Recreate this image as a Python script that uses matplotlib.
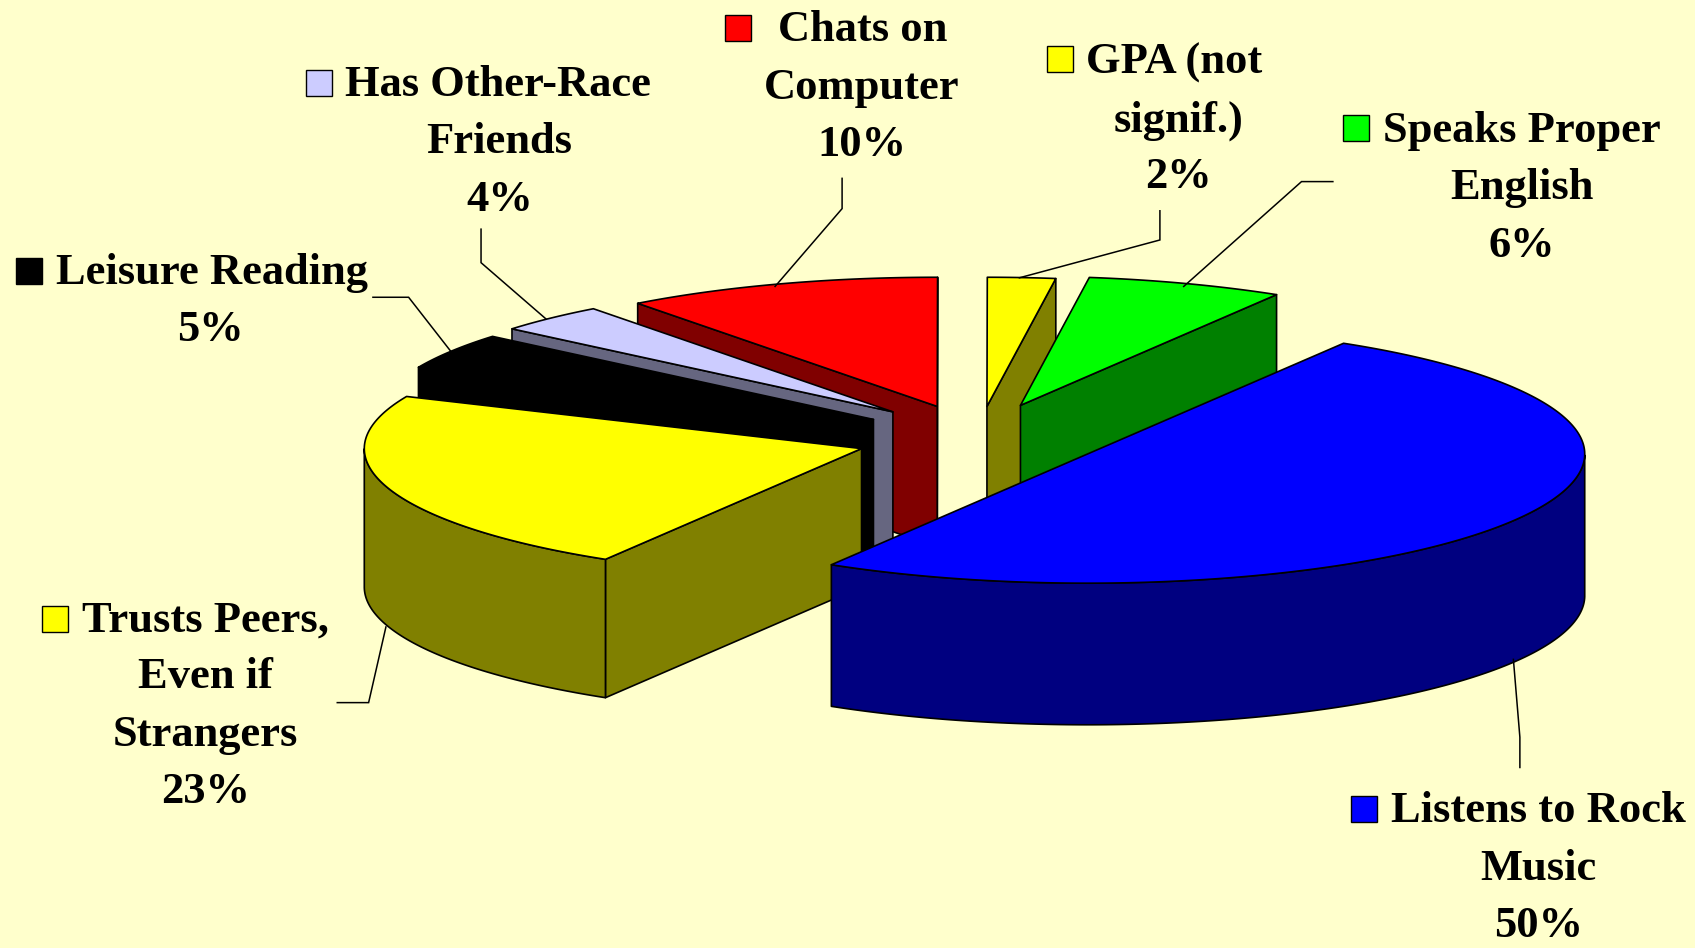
import numpy as np
import matplotlib
matplotlib.use("Agg")
import matplotlib.pyplot as plt
from matplotlib.patches import Polygon, Rectangle

# ---- data ----
categories = ["Listens to Rock Music", "Trusts Peers, Even if Strangers", "Leisure Reading",
              "Has Other-Race Friends", "Chats on Computer", "GPA (not signif.)", "Speaks Proper English"]
values = [50.0, 23.0, 4.5, 3.6, 10.3, 2.2, 6.4]
pct_labels = ["50%", "23%", "5%", "4%", "10%", "2%", "6%"]
top_colors = ["#0000FF", "#FFFF00", "#000000", "#CCCCFF", "#FF0000", "#FFFF00", "#00FF00"]
side_colors = ["#000080", "#808000", "#000000", "#666680", "#800000", "#808000", "#008000"]
explode_x = [0, -209, -198, -180, -139, -93, -62]
explode_y = [0, -5, -32, -39, -44, -44, -45]
depth = [131, 128, 130, 130, 130, 130, 130]
label_lines = [["Listens to Rock", "Music"], ["Trusts Peers,", "Even if", "Strangers"], ["Leisure Reading"],
               ["Has Other-Race", "Friends"], ["Chats on", "Computer"], ["GPA (not", "signif.)"],
               ["Speaks Proper", "English"]]

# ---- layout (in the 1568x877 frame) ----
BG = "#FFFFCC"
CX, CY, A, B = 1006, 420, 460, 119.5
START = 59.0
FS = 32.0
LINE = 53.0
label_first_left = [1287, 76, 52, 319.5, 720, 1005, 1279]
label_first_y = [746.5, 569.5, 248.5, 74.5, 24, 54, 117]
label_center = [1423, 190, 195, 462, 797, 1090, 1408]
key_left = [1250, 39, 15, 283, 671, 969, 1242]
key_y = [748, 573, 251, 77, 26, 55, 118]
leaders = [
    [(1406, 710), (1406, 682), (1400, 610)],
    [(312, 650), (341, 650), (357, 580)],
    [(345, 275), (378, 275), (417, 325)],
    [(445, 212), (445, 243), (505, 295)],
    [(779, 165), (779, 193), (717, 265)],
    [(1073, 195), (1073, 222), (943, 257)],
    [(1233, 168), (1204, 168), (1095, 265)],
]

fig = plt.figure(figsize=(16.95, 9.48), dpi=100, facecolor=BG)
ax = fig.add_axes([0, 0, 1, 1])
ax.set_xlim(0, 1568)
ax.set_ylim(877, 0)
ax.axis("off")
LW = 1.2


def rim(t_deg, ox, oy, dz=0):
    t = np.radians(t_deg)
    return np.column_stack([CX + ox + A * np.cos(t), CY + oy - B * np.sin(t) + dz])


def poly(pts, color, z):
    ax.add_patch(Polygon(pts, closed=True, facecolor=color, edgecolor="black", lw=LW,
                         joinstyle="round", zorder=z))


def draw_slice(t2, t1, top, side, ox, oy, h, z):
    """Slice runs clockwise from t2 down to t1 (degrees)."""
    apex = np.array([[CX + ox, CY + oy]])
    down = np.array([[0, h]])
    for t, visible in ((t1, np.cos(np.radians(t1)) > 0), (t2, np.cos(np.radians(t2)) < 0)):
        if visible:
            p = rim([t], ox, oy)
            poly(np.vstack([apex, p, p + down, apex + down]), side, z)
    ts = np.linspace(t1, t2, 240)
    front = ts[np.sin(np.radians(ts)) < 0]
    if front.size > 1:
        poly(np.vstack([rim(front, ox, oy), rim(front[::-1], ox, oy, h)]), side, z + 0.1)
    poly(np.vstack([apex, rim(ts, ox, oy)]), top, z + 0.2)


# Angles: clockwise from START, blue first
ang = START
spans = []
for v in values:
    spans.append((ang, ang - v * 3.6))
    ang -= v * 3.6
order = [5, 6, 4, 3, 2, 1, 0]
for rank, i in enumerate(order):
    t_hi, t_lo = spans[i]
    draw_slice(t_hi, t_lo, top_colors[i], side_colors[i], explode_x[i], explode_y[i], depth[i], 2 + rank)

for pts in leaders:
    xs, ys = zip(*pts)
    ax.plot(xs, ys, color="black", lw=1.1, zorder=20, solid_joinstyle="miter")

font = dict(family="Liberation Serif", fontweight="bold", fontsize=FS, color="black", zorder=21)
for i in range(len(values)):
    ax.text(label_first_left[i], label_first_y[i], label_lines[i][0], ha="left", va="center_baseline", **font)
    ax.add_patch(Rectangle((key_left[i], key_y[i] - 12), 24, 24, facecolor=top_colors[i],
                           edgecolor="black", lw=1.0, zorder=21))
    y = label_first_y[i]
    for line in label_lines[i][1:] + [pct_labels[i]]:
        y += LINE
        ax.text(label_center[i], y, line, ha="center", va="center_baseline", **font)

fig.savefig("out.png", dpi=100, facecolor=BG)
